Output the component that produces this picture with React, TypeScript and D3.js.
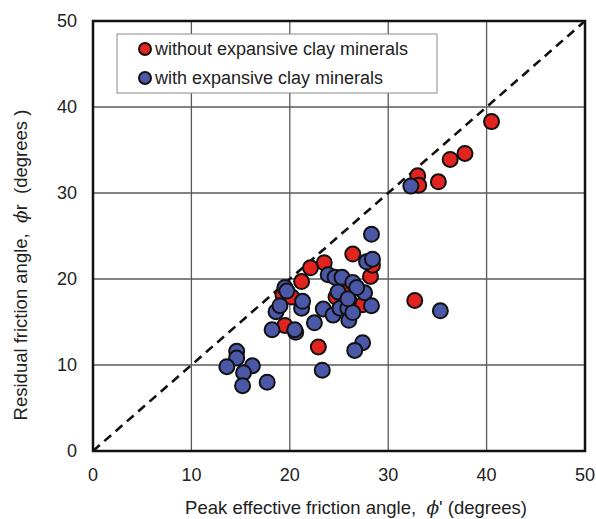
import * as d3 from "d3";

// peak effective friction angle (x) / residual friction angle (y), degrees
const redX = [40.5, 37.8, 36.3, 33.0, 33.1, 35.1, 32.7, 26.4, 23.5, 22.1, 21.2, 19.3, 20.2, 19.5, 22.9, 28.2, 28.4, 27.4, 25.6, 24.7, 26.0];
const redY = [38.3, 34.6, 33.9, 32.0, 30.9, 31.3, 17.5, 22.9, 21.9, 21.3, 19.7, 18.2, 17.9, 14.6, 12.1, 20.3, 21.6, 17.0, 18.5, 17.9, 17.6];

const blueX = [32.3, 35.3, 28.3, 27.8, 28.4, 28.3, 27.6, 27.4, 26.6, 23.3, 23.9, 24.6, 25.3, 26.4, 26.8, 24.9, 23.4, 24.4, 25.1, 25.9, 26.0, 26.4, 22.5, 21.2, 21.3, 20.6, 20.5, 18.6, 19.0, 18.2, 19.5, 19.7, 14.6, 14.6, 13.6, 16.2, 15.3, 15.2, 17.7, 25.9];
const blueY = [30.8, 16.3, 25.2, 22.0, 22.3, 16.9, 18.4, 12.6, 11.7, 9.4, 20.5, 20.2, 20.2, 19.6, 19.0, 18.5, 16.5, 15.8, 16.6, 16.6, 15.2, 16.1, 14.9, 16.6, 17.4, 13.8, 14.1, 16.2, 16.9, 14.1, 19.0, 18.6, 11.6, 10.8, 9.8, 9.9, 9.1, 7.6, 8.0, 17.7];

const ticks = [0, 10, 20, 30, 40, 50];
const legendLabels = ["without expansive clay minerals", "with expansive clay minerals"];

const RED = "#e3231d";
const BLUE = "#4b58a8";
const FONT = "'Liberation Sans', Arial, sans-serif";

export default function App() {
  const width = 596;
  const height = 519;
  const left = 93;
  const right = 585;
  const top = 21;
  const bottom = 451;

  const x = d3.scaleLinear().domain([0, 50]).range([left, right]);
  const y = d3.scaleLinear().domain([0, 50]).range([bottom, top]);

  const red = redX.map((v, i) => ({ x: v, y: redY[i] }));
  const blue = blueX.map((v, i) => ({ x: v, y: blueY[i] }));

  const inner = ticks.filter((t) => t > 0 && t < 50);
  const diag = d3.line<number>().x((d) => x(d)).y((d) => y(d))([0, 50]) || "";

  return (
    <svg
      width={width}
      height={height}
      style={{ position: "absolute", left: 0, top: 0, background: "#fff" }}
      fontFamily={FONT}
    >
      {/* grid */}
      {inner.map((t) => (
        <g key={"g" + t}>
          <line x1={x(t)} x2={x(t)} y1={top} y2={bottom} stroke="#5a5a5a" strokeWidth={1.3} />
          <line x1={left} x2={right} y1={y(t)} y2={y(t)} stroke="#5a5a5a" strokeWidth={1.3} />
        </g>
      ))}

      {/* legend */}
      <rect x={117} y={34} width={320} height={59} fill="#fff" stroke="#8a8a8a" strokeWidth={1} />
      {legendLabels.map((label, i) => (
        <g key={label} transform={`translate(145, ${49 + i * 29})`}>
          <circle r={6} fill={i === 0 ? RED : BLUE} stroke="#111" strokeWidth={2} />
          <text x={10} y={6} fontSize={18} fill="#222">
            {label}
          </text>
        </g>
      ))}

      {/* 1:1 line */}
      <path d={diag} stroke="#111" strokeWidth={2.6} strokeDasharray="9,6" fill="none" />

      {/* points */}
      {red.map((d, i) => (
        <circle key={"r" + i} cx={x(d.x)} cy={y(d.y)} r={7.5} fill={RED} stroke="#111" strokeWidth={2} />
      ))}
      {blue.map((d, i) => (
        <circle key={"b" + i} cx={x(d.x)} cy={y(d.y)} r={7.5} fill={BLUE} stroke="#111" strokeWidth={2} />
      ))}

      {/* frame */}
      <rect x={left} y={top} width={right - left} height={bottom - top} fill="none" stroke="#111" strokeWidth={2.5} />

      {/* tick labels */}
      {ticks.map((t) => (
        <text key={"xt" + t} x={x(t)} y={481} textAnchor="middle" fontSize={18} fill="#222">
          {t}
        </text>
      ))}
      {ticks.map((t) => (
        <text key={"yt" + t} x={77} y={y(t) + 6} textAnchor="end" fontSize={18} fill="#222">
          {t}
        </text>
      ))}

      {/* axis titles */}
      <text x={356} y={514} textAnchor="middle" fontSize={18.5} fill="#222" style={{ whiteSpace: "pre" }}>
        {"Peak effective friction angle,  "}
        <tspan fontStyle="italic" fontFamily="'DejaVu Serif', serif">ϕ</tspan>
        {"' (degrees)"}
      </text>
      <text
        transform="translate(27, 265) rotate(-90)"
        textAnchor="middle"
        fontSize={18.5}
        fill="#222"
        style={{ whiteSpace: "pre" }}
      >
        {"Residual friction angle,  "}
        <tspan fontStyle="italic" fontFamily="'DejaVu Serif', serif">ϕ</tspan>
        {"r  (degrees )"}
      </text>
    </svg>
  );
}
